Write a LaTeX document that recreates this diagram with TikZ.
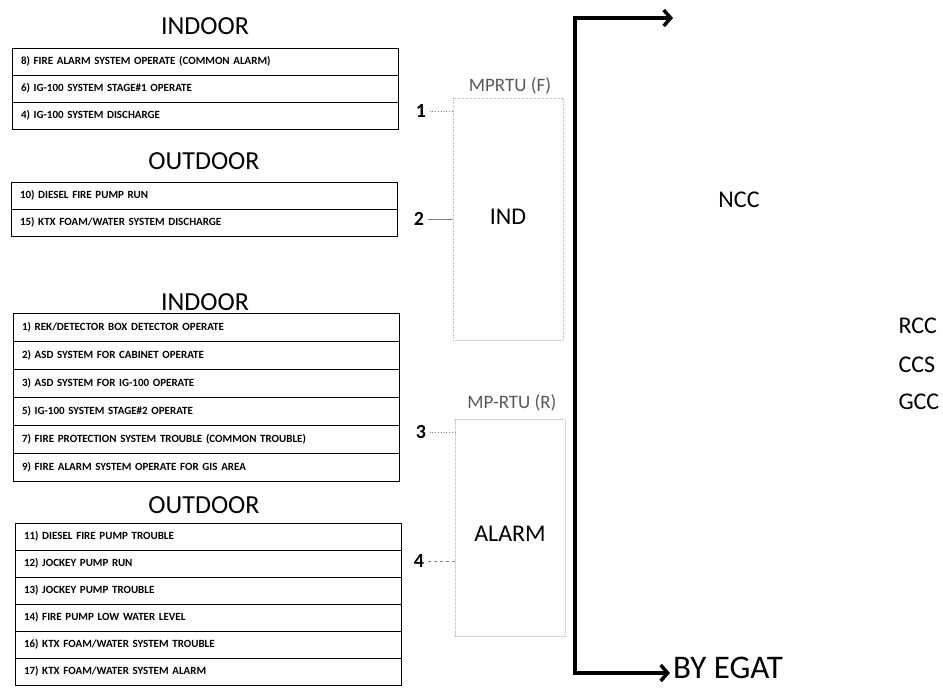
\documentclass[tikz,border=0pt]{standalone}
\usepackage{fontspec}
\setmainfont{Carlito}
\usetikzlibrary{positioning, arrows.meta}

\begin{document}
\begin{tikzpicture}[x=1pt, y=-1pt]
	\tikzstyle{sigrow}=[draw=black, line width=0.8pt, text width=368pt, minimum height=27pt, inner xsep=9pt, inner ysep=0pt, outer sep=0pt, align=left, font=\fontsize{11}{13}\bfseries\selectfont]
	\tikzstyle{area}=[font=\fontsize{26}{30}\selectfont]
	\tikzstyle{num}=[font=\fontsize{20}{24}\bfseries\selectfont]
	\tikzstyle{rtu}=[draw=black!25, densely dotted, line width=0.6pt, minimum width=110pt, outer sep=0pt]
	\tikzstyle{bus}=[line width=3.5pt, -{Straight Barb[length=7pt,width=16pt]}]
	\tikzstyle{centre}=[font=\fontsize{24}{28}\selectfont]
	\useasboundingbox (0,0) rectangle (943,688);

	% group 1
	\node (in1) at (205,26) [area] {INDOOR};
	\node (r8) at (12,48) [sigrow, anchor=north west] {8) FIRE ALARM SYSTEM OPERATE (COMMON ALARM)};
	\node (r6) [sigrow, below=0pt of r8] {6) IG-100 SYSTEM STAGE\#1 OPERATE};
	\node (r4) [sigrow, below=0pt of r6] {4) IG-100 SYSTEM DISCHARGE};

	% group 2
	\node (out1) at (204,161) [area] {OUTDOOR};
	\node (r10) at (11,182) [sigrow, anchor=north west] {10) DIESEL FIRE PUMP RUN};
	\node (r15) [sigrow, below=0pt of r10] {15) KTX FOAM/WATER SYSTEM DISCHARGE};

	% group 3
	\node (in2) at (205,302) [area] {INDOOR};
	\node (r1) at (13,313) [sigrow, anchor=north west, minimum height=28pt] {1) REK/DETECTOR BOX DETECTOR OPERATE};
	\node (r2) [sigrow, minimum height=28pt, below=0pt of r1] {2) ASD SYSTEM FOR CABINET OPERATE};
	\node (r3) [sigrow, minimum height=28pt, below=0pt of r2] {3) ASD SYSTEM FOR IG-100 OPERATE};
	\node (r5) [sigrow, minimum height=28pt, below=0pt of r3] {5) IG-100 SYSTEM STAGE\#2 OPERATE};
	\node (r7) [sigrow, minimum height=28pt, below=0pt of r5] {7) FIRE PROTECTION SYSTEM TROUBLE (COMMON TROUBLE)};
	\node (r9) [sigrow, minimum height=28pt, below=0pt of r7] {9) FIRE ALARM SYSTEM OPERATE FOR GIS AREA};

	% group 4
	\node (out2) at (204,505) [area] {OUTDOOR};
	\node (r11) at (15,523) [sigrow, anchor=north west] {11) DIESEL FIRE PUMP TROUBLE};
	\node (r12) [sigrow, below=0pt of r11] {12) JOCKEY PUMP RUN};
	\node (r13) [sigrow, below=0pt of r12] {13) JOCKEY PUMP TROUBLE};
	\node (r14) [sigrow, below=0pt of r13] {14) FIRE PUMP LOW WATER LEVEL};
	\node (r16) [sigrow, below=0pt of r14] {16) KTX FOAM/WATER SYSTEM TROUBLE};
	\node (r17) [sigrow, below=0pt of r16] {17) KTX FOAM/WATER SYSTEM ALARM};

	% rtu panels
	\node (rtuf) at (508,219) [rtu, minimum height=242pt] {};
	\node (rtur) at (510,528) [rtu, minimum height=217pt] {};
	\node at (510,86) [font=\fontsize{19}{22}\selectfont, text=black!65] {MPRTU (F)};
	\node at (512,403) [font=\fontsize{19}{22}\selectfont, text=black!65] {MP-RTU (R)};
	\node (ind) at (508,217) [font=\fontsize{24}{28}\selectfont] {IND};
	\node (alarm) at (510,534) [font=\fontsize{24}{28}\selectfont] {ALARM};

	\node (n1) at (421,111) [num] {1};
	\node (n2) at (419,219) [num] {2};
	\node (n3) at (421,432) [num] {3};
	\node (n4) at (419,561) [num] {4};
	\draw[black!50, dotted, line width=0.8pt] (n1) -- (n1 -| rtuf.west);
	\draw[black!50, line width=0.6pt] (n2) -- (n2 -| rtuf.west);
	\draw[black!50, dotted, line width=0.8pt] (n3) -- (n3 -| rtur.west);
	\draw[black!50, dashed, line width=0.6pt] (n4) -- (n4 -| rtur.west);

	% outputs
	\coordinate (busmid) at (575,345);
	\coordinate (busup) at (673,18);
	\coordinate (busdown) at (670,673);
	\node (egat) at (673,678) [anchor=base west, inner sep=0pt, font=\fontsize{33}{36}\selectfont] {BY EGAT};
	\draw[bus] (busmid) |- (busup);
	\draw[bus] (busmid) |- (busdown);

	\node (ncc) at (739,200) [centre] {NCC};
	\node (rcc) at (895,326) [centre, anchor=west] {RCC};
	\node (ccs) at (895,365) [centre, anchor=west] {CCS};
	\node (gcc) at (895,402) [centre, anchor=west] {GCC};
\end{tikzpicture}
\end{document}
